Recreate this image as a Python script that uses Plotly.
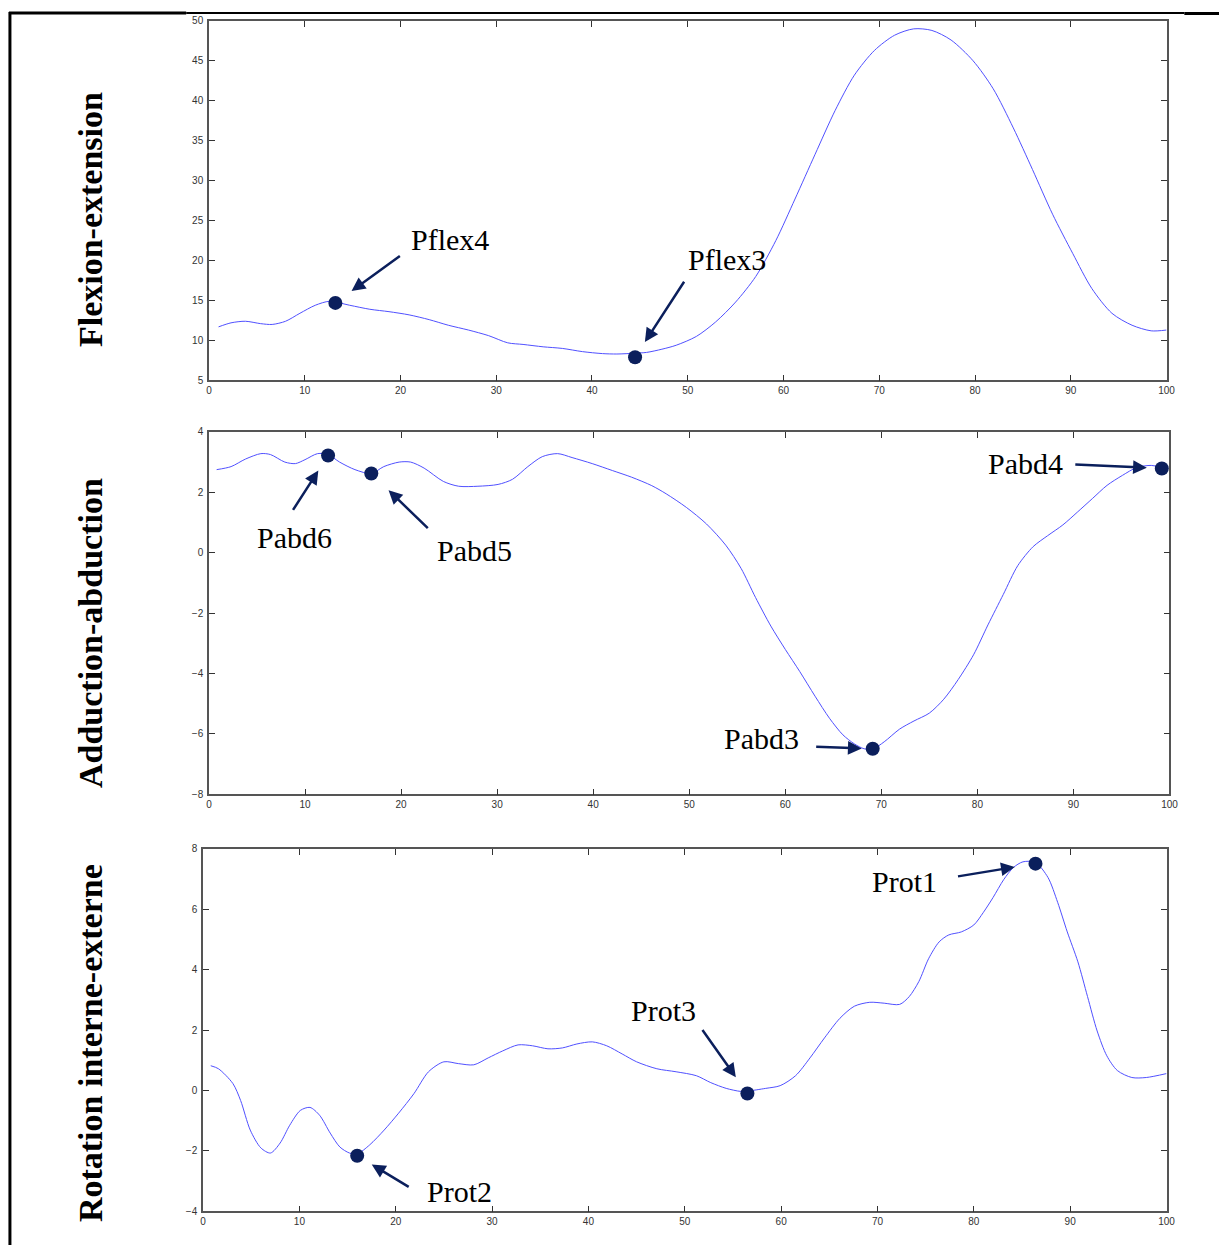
import plotly.graph_objects as go

W, H = 1228, 1251

# Flexion-extension curve
flex_x = [1.0, 2.3, 3.8, 5.4, 6.6, 8.0, 9.5, 11.1, 12.6, 14.7, 16.8, 18.8, 20.9, 23.0, 25.0, 27.1, 29.2,
          31.2, 32.8, 34.9, 36.9, 39.0, 41.1, 42.6, 44.5, 45.7, 47.3, 48.8, 50.9, 52.9, 55.0, 57.1, 59.2,
          61.2, 63.3, 65.4, 67.4, 69.5, 71.6, 73.6, 75.5, 77.5, 79.8, 81.9, 84.0, 86.0, 88.1, 90.2, 92.2, 94.3,
          96.4, 98.4, 100.0]
flex_y = [11.7, 12.2, 12.4, 12.1, 12.0, 12.4, 13.4, 14.4, 14.9, 14.4, 13.9, 13.6, 13.2, 12.6, 11.9, 11.3, 10.6,
          9.7, 9.5, 9.2, 9.0, 8.6, 8.35, 8.3, 8.4, 8.5, 8.9, 9.4, 10.5, 12.3, 14.8, 18.0, 22.5,
          27.7, 33.3, 38.8, 43.2, 46.3, 48.2, 49.0, 48.8, 47.6, 45.0, 41.5, 36.6, 31.4, 25.8, 20.9, 16.5, 13.4,
          11.9, 11.2, 11.3]

# Adduction-abduction curve
abd_x = [0.8, 2.3, 3.8, 5.4, 6.4, 7.9, 9.0, 10.0, 11.3, 12.4, 13.6, 15.2, 16.9, 18.2, 19.8, 21.0, 22.4, 24.4,
         26.0, 28.0, 30.1, 31.6, 33.2, 34.7, 36.3, 37.8, 39.9, 42.0, 44.0, 46.1, 47.6, 49.7, 51.8, 53.8,
         55.4, 56.9, 58.5, 60.0, 61.5, 63.1, 64.6, 66.0, 67.2, 68.2, 69.1, 70.3, 71.9, 73.4, 75.0, 76.5,
         78.0, 79.6, 81.1, 82.7, 84.2, 85.8, 87.3, 88.9, 90.4, 92.0, 93.5, 95.1, 96.6, 98.1, 99.2]
abd_y = [2.75, 2.85, 3.1, 3.28, 3.25, 3.0, 2.95, 3.08, 3.28, 3.25, 3.0, 2.75, 2.62, 2.85, 3.0, 3.0, 2.8, 2.36,
         2.2, 2.2, 2.26, 2.43, 2.85, 3.18, 3.28, 3.15, 2.95, 2.72, 2.5, 2.22, 1.95, 1.5, 0.95, 0.25,
         -0.52, -1.48, -2.43, -3.2, -3.93, -4.75, -5.48, -6.03, -6.33, -6.49, -6.5, -6.26, -5.84, -5.57, -5.31, -4.85,
         -4.2, -3.38, -2.39, -1.38, -0.43, 0.2, 0.56, 0.92, 1.34, 1.8, 2.23, 2.56, 2.82, 2.89, 2.82]

# Rotation interne-externe curve
rot_x = [0.8, 1.6, 3.1, 3.9, 4.9, 6.0, 7.0, 8.0, 9.0, 10.1, 11.1, 12.1, 13.2, 14.2, 15.2, 16.0, 17.3, 18.8,
         20.3, 21.9, 23.4, 25.0, 26.5, 28.1, 29.6, 31.1, 32.7, 34.2, 35.8, 37.3, 38.8, 40.4, 41.9, 43.5,
         45.0, 47.1, 49.1, 51.2, 52.7, 54.3, 55.8, 56.5, 58.4, 59.9, 61.5, 63.0, 64.5, 66.1, 67.6, 69.2,
         70.7, 72.3, 73.3, 74.3, 75.3, 76.4, 77.4, 78.7, 80.0, 81.0, 82.0, 83.1, 84.1, 85.1, 86.4, 87.7,
         88.7, 89.7, 90.8, 91.8, 92.8, 93.8, 94.9, 96.4, 97.9, 100.0]
rot_y = [0.82, 0.72, 0.23, -0.33, -1.31, -1.9, -2.07, -1.74, -1.15, -0.66, -0.56, -0.82, -1.41, -1.87, -2.07, -2.1, -1.8, -1.31,
         -0.75, -0.1, 0.62, 0.95, 0.89, 0.85, 1.08, 1.31, 1.51, 1.48, 1.38, 1.41, 1.54, 1.61, 1.48, 1.21,
         0.95, 0.72, 0.62, 0.49, 0.26, 0.07, -0.03, -0.02, 0.07, 0.16, 0.49, 1.08, 1.74, 2.39, 2.79, 2.92,
         2.89, 2.85, 3.11, 3.61, 4.36, 4.92, 5.15, 5.25, 5.48, 5.9, 6.39, 6.98, 7.38, 7.57, 7.55, 7.05,
         6.23, 5.25, 4.26, 3.11, 1.97, 1.15, 0.66, 0.43, 0.43, 0.56]

# key points: label, x, y
flex_pts = [('Pflex4', 13.2, 14.7), ('Pflex3', 44.5, 7.9)]
abd_pts = [('Pabd6', 12.4, 3.22), ('Pabd5', 16.9, 2.62), ('Pabd4', 99.2, 2.79), ('Pabd3', 69.1, -6.49)]
rot_pts = [('Prot1', 86.4, 7.51), ('Prot2', 16.0, -2.16), ('Prot3', 56.5, -0.1)]

titles = ['Flexion-extension', 'Adduction-abduction', 'Rotation interne-externe']

# label placement: arrow tail offset (ax, ay), standoff, text shift (xs, ys) in px
label_style = {
    'Pflex4': (66, -48, 20, 115, 63),
    'Pflex3': (50, -77, 18, 92, 98),
    'Pabd6': (-36, 56, 18, -34, -82),
    'Pabd5': (58, 56, 24, 103, -77),
    'Pabd4': (-88, -4, 15, -136, 5),
    'Pabd3': (-58, -2, 11, -111, 10),
    'Prot1': (-79, 13, 21, -131, -18),
    'Prot2': (53, 32, 17, 102, -36),
    'Prot3': (-46, -65, 20, -84, 83),
}

navy = '#0b1f5c'
line_col = '#5050ff'
axis_col = '#555555'

panels = [
    (flex_x, flex_y, flex_pts, [208, 1175], [15, 378], [0, 100], [5, 50], 5),
    (abd_x, abd_y, abd_pts, [208, 1178], [430, 796], [0, 100], [-8, 4], 2),
    (rot_x, rot_y, rot_pts, [202, 1175], [851, 1217], [0, 100], [-4, 8], 2),
]

fig = go.Figure()
annotations = []
layout = {}
for i, (xs, ys, pts, px, py, xr, yr, dy) in enumerate(panels):
    n = '' if i == 0 else str(i + 1)
    xa, ya = 'x' + n, 'y' + n
    fig.add_trace(go.Scatter(x=xs, y=ys, mode='lines', xaxis=xa, yaxis=ya, showlegend=False,
                             line=dict(color=line_col, width=1, shape='spline', smoothing=0.8)))
    fig.add_trace(go.Scatter(x=[p[1] for p in pts], y=[p[2] for p in pts], mode='markers',
                             xaxis=xa, yaxis=ya, showlegend=False,
                             marker=dict(color=navy, size=14)))
    common = dict(showgrid=False, zeroline=False, showline=True, linecolor=axis_col, linewidth=1.5,
                  mirror='ticks', ticks='inside', ticklen=6, tickcolor='#333333', tickwidth=1,
                  tickfont=dict(family='Liberation Sans', size=10, color='#333333'))
    layout['xaxis' + n] = dict(domain=[px[0] / W, px[1] / W], range=xr, dtick=10, tick0=0,
                               anchor=ya, **common)
    layout['yaxis' + n] = dict(domain=[1 - py[1] / H, 1 - py[0] / H], range=yr, dtick=dy, tick0=yr[0],
                               anchor=xa, ticklabelstandoff=2, **common)
    for name, x, y in pts:
        ax, ay, so, tx, ty = label_style[name]
        annotations.append(dict(x=x, y=y, xref=xa, yref=ya, text='', showarrow=True, ax=ax, ay=ay,
                                arrowhead=2, arrowsize=1.1, arrowwidth=2.5, arrowcolor=navy, standoff=so))
        annotations.append(dict(x=x, y=y, xref=xa, yref=ya, text=name, showarrow=False, xshift=tx, yshift=ty,
                                font=dict(family='Liberation Serif', size=30, color='black')))

# y titles
for t, yc in zip(titles, [216, 633, 1047]):
    annotations.append(dict(x=89 / W, y=1 - yc / H, xref='paper', yref='paper', text='<b>' + t + '</b>',
                            textangle=-90, showarrow=False, xanchor='center', yanchor='middle',
                            font=dict(family='Liberation Serif', size=34, color='black')))

shapes = [
    dict(type='line', xref='paper', yref='paper', x0=7 / W, x1=7 / W, y0=0, y1=1 - 6 / H,
         line=dict(color='black', width=3)),
    dict(type='line', xref='paper', yref='paper', x0=6 / W, x1=185 / W, y0=1 - 7 / H, y1=1 - 7 / H,
         line=dict(color='black', width=3)),
    dict(type='line', xref='paper', yref='paper', x0=185 / W, x1=1193 / W, y0=1 - 7 / H, y1=1 - 7 / H,
         line=dict(color='black', width=2)),
    dict(type='line', xref='paper', yref='paper', x0=1193 / W, x1=1, y0=1 - 7.5 / H, y1=1 - 7.5 / H,
         line=dict(color='black', width=3)),
]

fig.update_layout(width=W, height=H, margin=dict(l=0, r=0, t=0, b=0), plot_bgcolor='white',
                  paper_bgcolor='white', annotations=annotations, shapes=shapes, **layout)
fig.write_html('out.html', config={'displayModeBar': False},
               post_script="document.documentElement.style.margin='0';document.body.style.margin='0';"
                           "document.body.style.overflow='hidden';")
